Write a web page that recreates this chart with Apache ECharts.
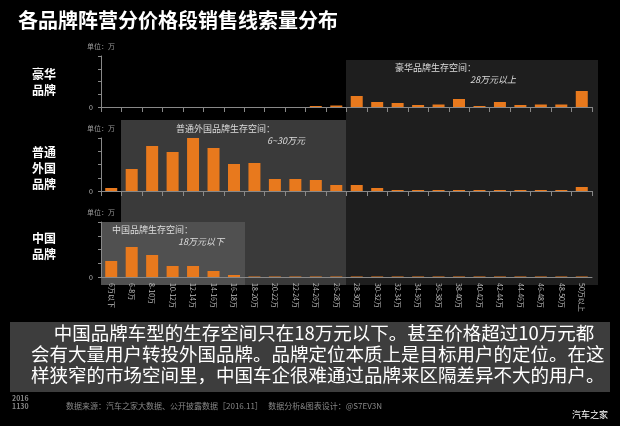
<!DOCTYPE html>
<html><head><meta charset="utf-8">
<script src="https://cdn.jsdelivr.net/npm/echarts@6/dist/echarts.min.js"></script>
<style>html,body{margin:0;background:#000}#c{width:620px;height:426px}</style>
</head><body><div id="c"></div>
<script>
// 价格段
var categories = ['6万以下','6-8万','8-10万','10-12万','12-14万','14-16万','16-18万','18-20万','20-22万','22-24万','24-26万','26-28万',
  '28-30万','30-32万','32-34万','34-36万','36-38万','38-40万','40-42万','42-44万','44-46万','46-48万','48-50万','50万以上'];
var luxury  = [0,0,0,0,0,0,0,0,0,0,1,1.5,11,5,4,2,2.5,8,1,5,2,2.5,2.5,16];
var foreign = [3,22,45,39,53,43,27,28,12,12,11,6,6,3,1,1,1,1,1,1,1,1,1,4];
var chinese = [16,30,22,11,11,6,2,0.5,0.5,0.5,0.5,0.5,0.5,0.5,0.5,0.5,0.5,0.5,0.5,0.5,0.5,0.5,0.5,0.5];

var grids = [{top:56,height:51,max:51},{top:138,height:53,max:53},{top:222,height:55,max:55}];
var datas = [luxury, foreign, chinese];
var chart = echarts.init(document.getElementById('c'));
var ff = '"Noto Sans CJK SC", sans-serif';

var option = {
  backgroundColor:'#000',
  textStyle:{fontFamily:ff},
  grid: grids.map(function(g){return {left:101,right:28,top:g.top,height:g.height};}),
  xAxis: grids.map(function(g,i){return {
    type:'category',gridIndex:i,data:categories,
    axisLine:{lineStyle:{color:'#888'}},axisTick:{show:i<2,lineStyle:{color:'#888'}},
    axisLabel:{show:i==2,rotate:-90,color:'#bbb',fontSize:7,interval:0,margin:6}
  };}),
  yAxis: grids.map(function(g,i){return {
    type:'value',gridIndex:i,min:0,max:g.max,interval:g.max/4,
    name:'单位：万',nameGap:6,nameTextStyle:{color:'#999',fontSize:7,align:'center'},
    axisLine:{show:true,lineStyle:{color:'#888'}},axisTick:{show:true,length:3,lineStyle:{color:'#888'}},
    splitLine:{show:false},
    axisLabel:{color:'#bbb',fontSize:7,formatter:function(v){return v===0?'0':'';}}
  };}),
  series: datas.map(function(d,i){return {
    type:'bar',xAxisIndex:i,yAxisIndex:i,data:d,barWidth:12,
    itemStyle:{color:'#e8791d'},z:5
  };}),
  graphic:[
    {type:'rect',shape:{x:346,y:60,width:252,height:225},style:{fill:'#1e1e1e'},z:-10},
    {type:'rect',shape:{x:121,y:120,width:225,height:165},style:{fill:'#3a3a3a'},z:-9},
    {type:'rect',shape:{x:101,y:222,width:144,height:63},style:{fill:'#505050'},z:-8},
    {type:'text',left:18,top:10,style:{text:'各品牌阵营分价格段销售线索量分布',fill:'#fff',font:'bold 20px '+ff}},
    {type:'text',left:32,top:66,style:{text:'豪华\n品牌',fill:'#fff',font:'bold 12px '+ff,lineHeight:16}},
    {type:'text',left:32,top:144,style:{text:'普通\n外国\n品牌',fill:'#fff',font:'bold 12px '+ff,lineHeight:16}},
    {type:'text',left:32,top:230,style:{text:'中国\n品牌',fill:'#fff',font:'bold 12px '+ff,lineHeight:16}},
    {type:'text',left:395,top:63,style:{text:'豪华品牌生存空间：',fill:'#ddd',font:'9px '+ff}},
    {type:'text',left:470,top:75,style:{text:'28万元以上',fill:'#ddd',font:'italic 9px '+ff}},
    {type:'text',left:176,top:124,style:{text:'普通外国品牌生存空间：',fill:'#ddd',font:'9px '+ff}},
    {type:'text',left:267,top:136,style:{text:'6~30万元',fill:'#ddd',font:'italic 9px '+ff}},
    {type:'text',left:112,top:225,style:{text:'中国品牌生存空间：',fill:'#ddd',font:'9px '+ff}},
    {type:'text',left:178,top:237,style:{text:'18万元以下',fill:'#ddd',font:'italic 9px '+ff}},
    {type:'rect',shape:{x:10,y:322,width:600,height:70},style:{fill:'#3d3d3d'},z:-5},
    {type:'text',left:31,top:322,style:{text:'\u3000 中国品牌车型的生存空间只在18万元以下。甚至价格超过10万元都\n会有大量用户转投外国品牌。品牌定位本质上是目标用户的定位。在这\n样狭窄的市场空间里，中国车企很难通过品牌来区隔差异不大的用户。',fill:'#fff',font:'18.5px '+ff,lineHeight:21}},
    {type:'text',left:12,top:394,style:{text:'2016\n1130',fill:'#888',font:'bold 7px '+ff,lineHeight:8}},
    {type:'text',left:66,top:402,style:{text:'数据来源：汽车之家大数据、公开披露数据［2016.11］   数据分析&图表设计：@S7EV3N',fill:'#888',font:'8px '+ff}},
    {type:'text',left:572,top:410,style:{text:'汽车之家',fill:'#fff',font:'9px '+ff}}
  ]
};
chart.setOption(option);
</script></body></html>
